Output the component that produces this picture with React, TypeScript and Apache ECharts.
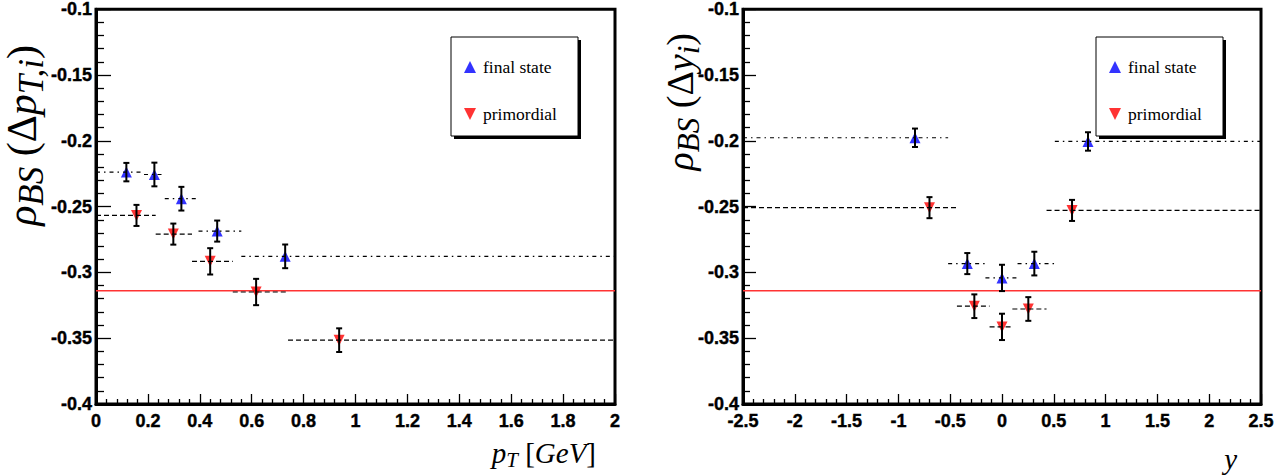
import React, { useEffect, useRef } from "react";
import * as echarts from "echarts";

// ---- tick labels ----
const leftXTicks = [0, 0.2, 0.4, 0.6, 0.8, 1, 1.2, 1.4, 1.6, 1.8, 2];
const rightXTicks = [-2.5, -2, -1.5, -1, -0.5, 0, 0.5, 1, 1.5, 2, 2.5];
const yTicks = [-0.4, -0.35, -0.3, -0.25, -0.2, -0.15, -0.1];

const seriesNames = ["final state", "primordial"];
const referenceLevel = -0.314;

// ---- left panel: rho_BS(Delta pT,i) ----
const leftFinalX = [0.117, 0.225, 0.329, 0.467, 0.729];
const leftFinalY = [-0.2238, -0.2256, -0.244, -0.2686, -0.2878];
const leftFinalErr = [0.007, 0.009, 0.009, 0.008, 0.009];
const leftFinalLo = [0, 0.185, 0.265, 0.395, 0.56];
const leftFinalHi = [0.185, 0.265, 0.395, 0.56, 2.0];

const leftPrimX = [0.156, 0.298, 0.44, 0.617, 0.937];
const leftPrimY = [-0.2567, -0.2709, -0.2916, -0.3149, -0.3515];
const leftPrimErr = [0.008, 0.008, 0.01, 0.01, 0.009];
const leftPrimLo = [0, 0.23, 0.37, 0.527, 0.74];
const leftPrimHi = [0.23, 0.37, 0.527, 0.74, 2.0];

// ---- right panel: rho_BS(Delta y_i) ----
const rightFinalX = [-0.84, -0.335, 0, 0.312, 0.83];
const rightFinalY = [-0.1977, -0.2933, -0.3042, -0.2933, -0.2005];
const rightFinalErr = [0.007, 0.008, 0.01, 0.009, 0.007];
const rightFinalLo = [-2.5, -0.52, -0.16, 0.15, 0.51];
const rightFinalHi = [-0.52, -0.16, 0.15, 0.51, 2.5];

const rightPrimX = [-0.7, -0.267, 0, 0.254, 0.676];
const rightPrimY = [-0.2508, -0.3257, -0.3414, -0.3278, -0.2529];
const rightPrimErr = [0.008, 0.009, 0.01, 0.009, 0.008];
const rightPrimLo = [-2.5, -0.435, -0.12, 0.1, 0.43];
const rightPrimHi = [-0.435, -0.12, 0.1, 0.43, 2.5];

const BLUE = "#0000ff";
const RED = "#ff0000";
const DOWN_TRI = "path://M0,0L10,0L5,10Z";

function rows(x: number[], y: number[], e: number[], lo: number[], hi: number[]) {
  return x.map((v, i) => [v, y[i], e[i], lo[i], hi[i]]);
}

function makeRender(dash: number[]) {
  return (params: any, api: any) => {
    const x = api.value(0);
    const y = api.value(1);
    const e = api.value(2);
    const lo = api.value(3);
    const hi = api.value(4);
    const pL = api.coord([lo, y]);
    const pR = api.coord([hi, y]);
    const pT = api.coord([x, y + e]);
    const pB = api.coord([x, y - e]);
    const cap = 3;
    const es = { stroke: "#000", lineWidth: 2 };
    return {
      type: "group",
      children: [
        {
          type: "line",
          shape: { x1: pL[0], y1: pL[1], x2: pR[0], y2: pR[1] },
          style: { stroke: "#000", lineWidth: 1.2, lineDash: dash },
        },
        { type: "line", shape: { x1: pT[0], y1: pT[1], x2: pB[0], y2: pB[1] }, style: es },
        { type: "line", shape: { x1: pT[0] - cap, y1: pT[1], x2: pT[0] + cap, y2: pT[1] }, style: es },
        { type: "line", shape: { x1: pB[0] - cap, y1: pB[1], x2: pB[0] + cap, y2: pB[1] }, style: es },
      ],
    };
  };
}

const fmt = (v: number) => String(parseFloat(v.toFixed(3)));

const tickFont = {
  fontFamily: "'Liberation Sans', Arial, sans-serif",
  fontWeight: 700,
  fontSize: 18,
  color: "#000",
  textBorderColor: "#000",
  textBorderWidth: 0.4,
};

function xAxisFor(gridIndex: number, ticks: number[], majorLen: number, minorLen: number) {
  return {
    type: "value",
    gridIndex,
    min: ticks[0],
    max: ticks[ticks.length - 1],
    interval: ticks[1] - ticks[0],
    axisLine: { show: true, onZero: false, lineStyle: { color: "#000", width: 3 } },
    axisTick: { show: true, inside: true, length: majorLen, lineStyle: { color: "#000", width: 1.3 } },
    minorTick: { show: true, splitNumber: 5, length: minorLen, lineStyle: { color: "#000", width: 1.3 } },
    splitLine: { show: false },
    axisLabel: { ...tickFont, margin: 8, formatter: fmt, showMinLabel: true, showMaxLabel: true },
  };
}

function yAxisFor(gridIndex: number, majorLen: number, minorLen: number) {
  return {
    type: "value",
    gridIndex,
    min: yTicks[0],
    max: yTicks[yTicks.length - 1],
    interval: yTicks[1] - yTicks[0],
    axisLine: { show: true, onZero: false, lineStyle: { color: "#000", width: 3 } },
    axisTick: { show: true, inside: true, length: majorLen, lineStyle: { color: "#000", width: 1.3 } },
    minorTick: { show: true, splitNumber: 5, length: minorLen, lineStyle: { color: "#000", width: 1.3 } },
    splitLine: { show: false },
    axisLabel: {
      ...tickFont,
      margin: 4,
      padding: [5, 0, 0, 0],
      formatter: fmt,
      showMinLabel: true,
      showMaxLabel: true,
    },
  };
}

function panelSeries(idx: number, xRange: number[], fin: number[][], prim: number[][]) {
  return [
    {
      type: "line",
      name: "reference " + idx,
      xAxisIndex: idx,
      yAxisIndex: idx,
      data: [
        [xRange[0], referenceLevel],
        [xRange[1], referenceLevel],
      ],
      symbol: "none",
      lineStyle: { color: "#ff3333", width: 1.5 },
      z: 1,
      silent: true,
    },
    {
      type: "scatter",
      name: seriesNames[0],
      xAxisIndex: idx,
      yAxisIndex: idx,
      data: fin.map((r) => [r[0], r[1]]),
      symbol: "triangle",
      symbolSize: [11, 11],
      itemStyle: { color: BLUE },
      z: 3,
    },
    {
      type: "scatter",
      name: seriesNames[1],
      xAxisIndex: idx,
      yAxisIndex: idx,
      data: prim.map((r) => [r[0], r[1]]),
      symbol: "triangle",
      symbolRotate: 180,
      symbolSize: [11, 11],
      itemStyle: { color: RED },
      z: 3,
    },
    {
      type: "custom",
      name: "final state bins " + idx,
      xAxisIndex: idx,
      yAxisIndex: idx,
      data: fin,
      encode: { x: 0, y: 1 },
      renderItem: makeRender([4, 4, 1.5, 4]),
      z: 4,
    },
    {
      type: "custom",
      name: "primordial bins " + idx,
      xAxisIndex: idx,
      yAxisIndex: idx,
      data: prim,
      encode: { x: 0, y: 1 },
      renderItem: makeRender([5, 3]),
      z: 4,
    },
  ];
}

const serif = "'Liberation Serif', 'Times New Roman', serif";
function titleRich(main: number, sub: number, drop: number) {
  return {
    m: { fontFamily: serif, fontSize: main, color: "#000" },
    mi: { fontFamily: serif, fontSize: main, fontStyle: "italic", color: "#000" },
    s: { fontFamily: serif, fontSize: sub, fontStyle: "italic", color: "#000", padding: [drop, 0, 0, 0] },
  };
}
const leftYTitleRich = titleRich(42, 35, 18);
const rightYTitleRich = titleRich(38, 31, 16);
const xTitleRich = titleRich(29, 21, 13);

function legendFor(left: number) {
  return {
    left: left + 8,
    top: 53,
    orient: "vertical",
    itemGap: 29,
    itemWidth: 12,
    itemHeight: 12,
    itemStyle: { borderWidth: 0 },
    selectedMode: false,
    textStyle: { fontFamily: serif, fontSize: 17.5, color: "#000", padding: [0, 0, 0, 2] },
    data: [
      { name: seriesNames[0], icon: "triangle" },
      { name: seriesNames[1], icon: DOWN_TRI },
    ],
  };
}

function legendBox(left: number) {
  return [
    { type: "rect", shape: { x: left + 3, y: 40, width: 127, height: 99 }, style: { fill: "#000" }, z: 0 },
    {
      type: "rect",
      shape: { x: left, y: 37, width: 127, height: 99 },
      style: { fill: "#fff", stroke: "#000", lineWidth: 1 },
      z: 0,
    },
  ];
}

function title(x: number, y: number, text: string, rotate: boolean, rich: any) {
  return {
    type: "text",
    x,
    y,
    rotation: rotate ? Math.PI / 2 : 0,
    style: {
      text,
      rich,
      align: "right",
      textAlign: "right",
      verticalAlign: "middle",
      textVerticalAlign: "middle",
    },
    z: 5,
  };
}

export default function App() {
  const ref = useRef<HTMLDivElement>(null);
  useEffect(() => {
    document.body.style.margin = "0";
    if (!ref.current) return;
    const chart = echarts.init(ref.current, undefined, { renderer: "svg" });
    const leftFin = rows(leftFinalX, leftFinalY, leftFinalErr, leftFinalLo, leftFinalHi);
    const leftPrim = rows(leftPrimX, leftPrimY, leftPrimErr, leftPrimLo, leftPrimHi);
    const rightFin = rows(rightFinalX, rightFinalY, rightFinalErr, rightFinalLo, rightFinalHi);
    const rightPrim = rows(rightPrimX, rightPrimY, rightPrimErr, rightPrimLo, rightPrimHi);
    chart.setOption({
      animation: false,
      backgroundColor: "#fff",
      grid: [
        { left: 96, top: 8.5, width: 519, height: 395.5, show: true, borderColor: "#000", borderWidth: 3, backgroundColor: "transparent" },
        { left: 743, top: 8.5, width: 518, height: 395.5, show: true, borderColor: "#000", borderWidth: 3, backgroundColor: "transparent" },
      ],
      xAxis: [xAxisFor(0, leftXTicks, 10, 5), xAxisFor(1, rightXTicks, 10, 5)],
      yAxis: [yAxisFor(0, 15, 8), yAxisFor(1, 13, 7)],
      legend: [legendFor(451), legendFor(1096)],
      graphic: [
        ...legendBox(451),
        ...legendBox(1096),
        title(22, 45, "{mi|ρ}{s|BS}{m| (Δ}{mi|p}{s|T,i}{m|)}", true, leftYTitleRich),
        title(680, 33, "{mi|ρ}{s|BS}{m| (Δ}{mi|y}{s|i}{m|)}", true, rightYTitleRich),
        title(596, 453, "{mi|p}{s|T}{m| [}{mi|GeV}{m|]}", false, xTitleRich),
        title(1237, 459, "{mi|y}", false, xTitleRich),
      ],
      series: [
        ...panelSeries(0, [leftXTicks[0], leftXTicks[leftXTicks.length - 1]], leftFin, leftPrim),
        ...panelSeries(1, [rightXTicks[0], rightXTicks[rightXTicks.length - 1]], rightFin, rightPrim),
      ],
    });
    return () => chart.dispose();
  }, []);
  return <div ref={ref} style={{ width: 1284, height: 475 }} />;
}
